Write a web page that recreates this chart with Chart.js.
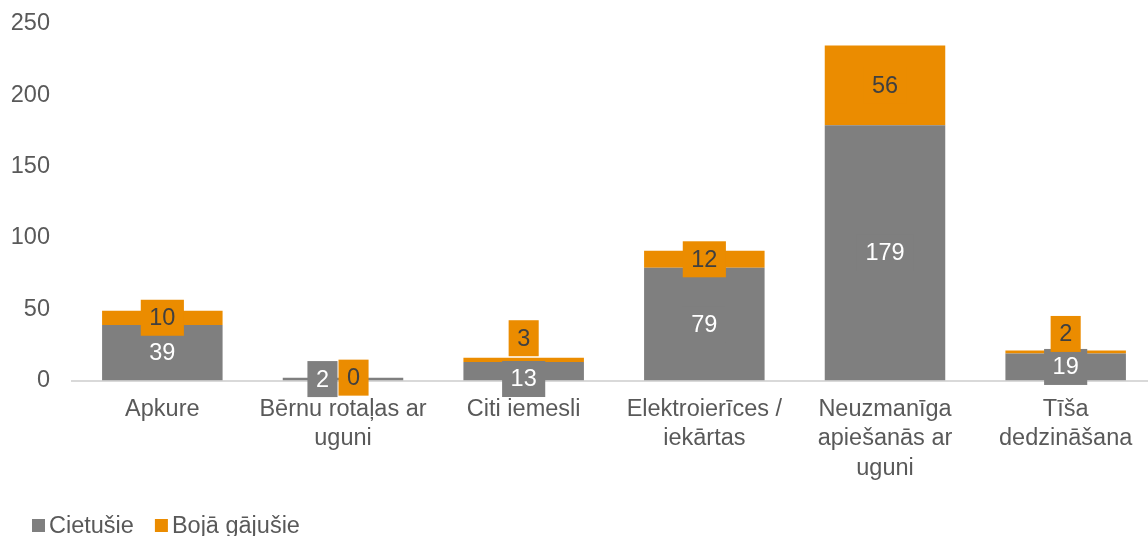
<!DOCTYPE html>
<html lang="lv">
<head>
<meta charset="utf-8">
<title>Cietušie un bojā gājušie</title>
<script src="https://cdn.jsdelivr.net/npm/chart.js@4.4.1/dist/chart.umd.min.js"></script>
<style>
  html, body { margin: 0; padding: 0; background: #fff; overflow: hidden; }
  #wrap { width: 1160px; height: 536px; }
</style>
</head>
<body>
<div id="wrap"><canvas id="ugunsChart" width="1160" height="536"></canvas></div>
<script>
// dati
const kategorijas = [
  ['Apkure'],
  ['Bērnu rotaļas ar', 'uguni'],
  ['Citi iemesli'],
  ['Elektroierīces /', 'iekārtas'],
  ['Neuzmanīga', 'apiešanās ar', 'uguni'],
  ['Tīša', 'dedzināšana']
];
const cietusie = [39, 2, 13, 79, 179, 19];
const bojaGajusie = [10, 0, 3, 12, 56, 2];
const yTicks = [0, 50, 100, 150, 200, 250];

const PELEKS = '#7F7F7F';
const ORANZS = '#EB8C00';
const TEKSTS = '#595959';
const FONTS = '"Liberation Sans", Arial, sans-serif';
const IZMERS = 23.5;

Chart.defaults.font.family = FONTS;
Chart.defaults.font.size = IZMERS;
Chart.defaults.color = TEKSTS;

// vērtību etiķetes ar fonu, kā Excel
const etiketes = {
  id: 'etiketes',
  afterDatasetsDraw(chart) {
    const ctx = chart.ctx;
    const BOX_H = 36, PAD_X = 8.5;
    const metaC = chart.getDatasetMeta(0);
    const metaB = chart.getDatasetMeta(1);
    ctx.save();
    ctx.font = IZMERS + 'px ' + FONTS;
    ctx.textAlign = 'center';
    ctx.textBaseline = 'middle';
    metaC.data.forEach((elC, i) => {
      const elB = metaB.data[i];
      const c = { text: String(cietusie[i]), bg: PELEKS, fg: '#FFFFFF', x: elC.x, y: (elC.y + elC.base) / 2 };
      const o = { text: String(bojaGajusie[i]), bg: ORANZS, fg: '#404040', x: elB.x, y: (elB.y + elB.base) / 2 };
      c.w = ctx.measureText(c.text).width + 2 * PAD_X;
      o.w = ctx.measureText(o.text).width + 2 * PAD_X;

      // pārklāšanās novēršana
      const overlap = (o.y + BOX_H / 2) - (c.y - BOX_H / 2);
      if (overlap > 30) {
        const kopa = c.w + o.w + 1;
        c.x = elC.x - 5 - kopa / 2 + c.w / 2;
        o.x = c.x + c.w / 2 + 1 + o.w / 2;
      } else if (overlap > 4) {
        o.y -= overlap - 3;
        c.y += Math.max(0, overlap - 22) * 3;
      }

      [c, o].forEach(b => {
        ctx.fillStyle = b.bg;
        ctx.fillRect(b.x - b.w / 2, b.y - BOX_H / 2, b.w, BOX_H);
        ctx.fillStyle = b.fg;
        ctx.fillText(b.text, b.x, b.y + 1);
      });
    });
    ctx.restore();
  }
};

// leģenda apakšā kreisajā pusē
const legenda = {
  id: 'legenda',
  afterDraw(chart) {
    const ctx = chart.ctx;
    ctx.save();
    ctx.font = IZMERS + 'px ' + FONTS;
    ctx.textBaseline = 'middle';
    ctx.textAlign = 'left';
    let x = 32;
    const y = 519, kv = 13;
    chart.data.datasets.forEach(ds => {
      ctx.fillStyle = ds.backgroundColor;
      ctx.fillRect(x, y, kv, kv);
      ctx.fillStyle = TEKSTS;
      ctx.fillText(ds.label, x + kv + 4, y + kv / 2 + 1);
      x += kv + 4 + ctx.measureText(ds.label).width + 21;
    });
    ctx.restore();
  }
};

const ctx = document.getElementById('ugunsChart').getContext('2d');
window.myChart = new Chart(ctx, {
  type: 'bar',
  data: {
    labels: kategorijas,
    datasets: [
      { label: 'Cietušie', data: cietusie, backgroundColor: PELEKS },
      { label: 'Bojā gājušie', data: bojaGajusie, backgroundColor: ORANZS }
    ]
  },
  options: {
    responsive: false,
    animation: false,
    devicePixelRatio: 1,
    layout: { padding: { top: 24, right: 4, left: 0, bottom: 0 } },
    barPercentage: 0.667,
    categoryPercentage: 1,
    plugins: {
      legend: { display: false },
      tooltip: { enabled: false }
    },
    scales: {
      x: {
        stacked: true,
        grid: { display: false, drawTicks: false },
        border: { display: true, color: '#D9D9D9', width: 2 },
        ticks: {
          color: TEKSTS,
          padding: 14,
          maxRotation: 0,
          autoSkip: false,
          font: { size: IZMERS, lineHeight: 1.26 }
        },
        afterFit(scale) { scale.height = 155.5; }
      },
      y: {
        stacked: true,
        min: 0,
        max: 250,
        afterBuildTicks(scale) { scale.ticks = yTicks.map(v => ({ value: v })); },
        grid: { display: false, drawTicks: false },
        border: { display: false },
        ticks: { color: TEKSTS, padding: 22, font: { size: IZMERS } },
        afterFit(scale) {
          scale.width = 72;
          scale.paddingTop = 0;
          scale.paddingBottom = 0;
        }
      }
    }
  },
  plugins: [etiketes, legenda]
});
</script>
</body>
</html>
